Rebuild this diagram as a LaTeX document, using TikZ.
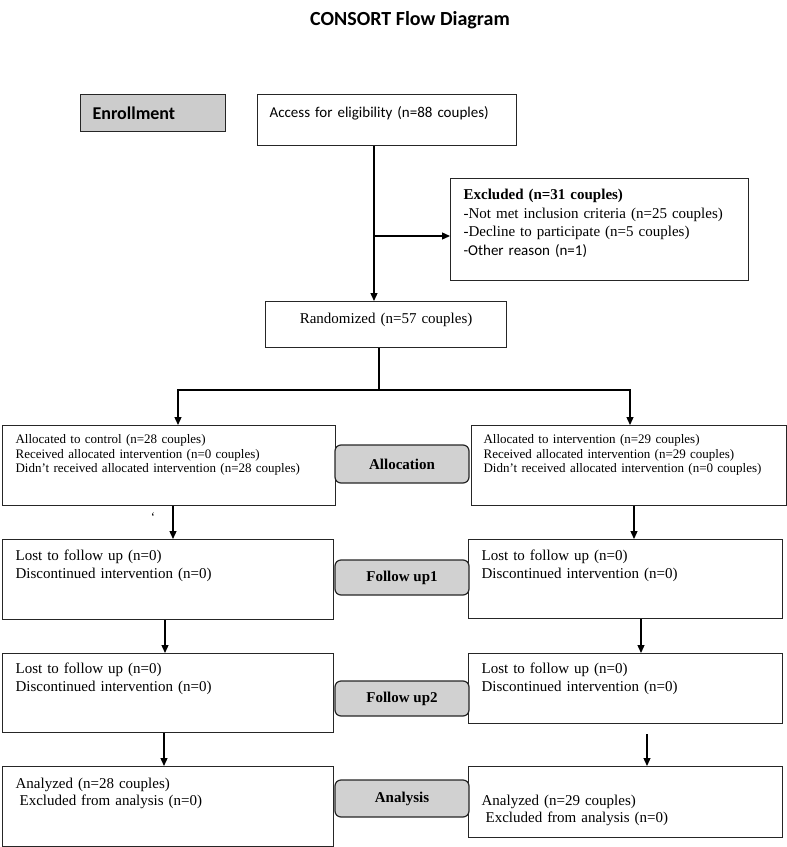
\documentclass[tikz,border=0pt]{standalone}
\usepackage{fontspec}
\setmainfont{Liberation Serif}
\newfontfamily\calibri{Carlito}
\usetikzlibrary{arrows.meta, positioning, calc}

\tikzset{
  box/.style={draw=black!85, line width=1.2pt, anchor=north west, inner xsep=13pt, inner ysep=0pt, align=left},
  phase/.style={draw=black!85, line width=1.2pt, fill=black!18, rounded corners=6pt, inner sep=0pt, font=\fontsize{15}{18}\selectfont\bfseries},
  arr/.style={line width=1.3pt, -{Triangle[length=8pt,width=7pt]}},
  txtsmall/.style={font=\fontsize{13}{14.5}\selectfont},
  txtbig/.style={font=\fontsize{15}{18}\selectfont},
}

\begin{document}
\begin{tikzpicture}[x=1pt, y=-1pt]
\useasboundingbox (0,0) rectangle (787,847);

% --- Title ---
\node[font=\calibri\bfseries\fontsize{20}{24}\selectfont] (title) at (410,20) {CONSORT Flow Diagram};

% --- Enrollment ---
\node[box, fill=black!20, inner xsep=12pt, text width=121pt, minimum height=37pt,
      font=\calibri\bfseries\fontsize{18}{20}\selectfont] (enrol) at (80,94) {Enrollment};

\node[box, inner xsep=12pt, text width=235pt, text height=22.5pt, text depth=28.5pt,
      font=\calibri\fontsize{15}{18}\selectfont] (access) at (257,94) {Access for eligibility (n=88 couples)};

\node[box, text width=272pt, text height=21pt, text depth=81pt,
      font=\fontsize{15}{18.5}\selectfont] (excl) at (450,178)
  {\textbf{Excluded (n=31 couples)}\\
   -Not met inclusion criteria (n=25 couples)\\
   -Decline to participate (n=5 couples)\\
   {\calibri -Other reason (n=1)}};

\node[box, align=center, text width=215pt, text height=22pt, text depth=24pt, txtbig] (rand) at (265,301)
  {Randomized (n=57 couples)};

% --- Allocation ---
\node[box, text width=307pt, text height=18pt, text depth=62pt, txtsmall] (ctl) at (2,425)
  {Allocated to control (n=28 couples)\\
   Received allocated intervention (n=0 couples)\\
   Didn’t received allocated intervention (n=28 couples)};

\node[box, inner xsep=12pt, text width=291pt, text height=18pt, text depth=62pt, txtsmall] (int) at (471,425)
  {Allocated to intervention (n=29 couples)\\
   Received allocated intervention (n=29 couples)\\
   Didn’t received allocated intervention (n=0 couples)};

\node[font=\fontsize{13}{14}\selectfont] (tick) at (153,517) {\symbol{96}};

% --- Follow up 1 ---
\node[box, text width=305pt, text height=21pt, text depth=59pt, txtbig] (fu1L) at (2,539)
  {Lost to follow up (n=0)\\ Discontinued intervention (n=0)};
\node[box, text width=288pt, text height=21pt, text depth=58pt, txtbig] (fu1R) at (468,539)
  {Lost to follow up (n=0)\\ Discontinued intervention (n=0)};

% --- Follow up 2 ---
\node[box, text width=305pt, text height=20pt, text depth=59pt, txtbig] (fu2L) at (2,653)
  {Lost to follow up (n=0)\\ Discontinued intervention (n=0)};
\node[box, text width=288pt, text height=20pt, text depth=50pt, txtbig] (fu2R) at (468,653)
  {Lost to follow up (n=0)\\ Discontinued intervention (n=0)};

% --- Analysis ---
\node[box, text width=305pt, text height=22pt, text depth=58pt, font=\fontsize{15}{17}\selectfont] (anL) at (2,766)
  {Analyzed (n=28 couples)\\ \hspace*{4pt}Excluded from analysis (n=0)};
\node[box, text width=288pt, text height=39pt, text depth=32pt, font=\fontsize{15}{17}\selectfont] (anR) at (468,766)
  {Analyzed (n=29 couples)\\ \hspace*{4pt}Excluded from analysis (n=0)};

% --- Phase labels between the two arms ---
\foreach \nm/\y/\h/\txt in {alloc/464/38/Allocation, fup1/577.5/35/Follow up1,
                            fup2/698.5/35/Follow up2, anlys/798.5/37/Analysis}
  \node[phase, minimum width=134pt, minimum height=\h pt] (\nm) at (402,\y) {\txt};

% --- Connectors ---
\coordinate (split) at (374,236);
\draw[arr] (split |- access.south) -- (split |- rand.north);
\draw[arr] (split) -- (split -| excl.west);

\coordinate (fork) at (379,390);
\coordinate (forkL) at (178,390);
\coordinate (forkR) at (630,390);
\draw[line width=1.3pt] (fork |- rand.south) -- (fork);
\draw[line width=1.3pt, line cap=rect] (forkL) -- (forkR);
\draw[arr] (forkL) -- (forkL |- ctl.north);
\draw[arr] (forkR) -- (forkR |- int.north);

% columns of the downward arrows
\coordinate (colA) at (173,0);
\coordinate (colB) at (165,0);
\coordinate (colC) at (164,0);
\coordinate (colD) at (634,0);
\coordinate (colE) at (641,0);
\coordinate (colF) at (647,0);

\draw[arr] (ctl.south -| colA) -- (fu1L.north -| colA);
\draw[arr] (fu1L.south -| colB) -- (fu2L.north -| colB);
\draw[arr] (fu2L.south -| colC) -- (anL.north -| colC);
\draw[arr] (int.south -| colD) -- (fu1R.north -| colD);
\draw[arr] (fu1R.south -| colE) -- (fu2R.north -| colE);
\draw[arr] ($(fu2R.south -| colF)+(0,10)$) -- (anR.north -| colF);

\end{tikzpicture}
\end{document}
